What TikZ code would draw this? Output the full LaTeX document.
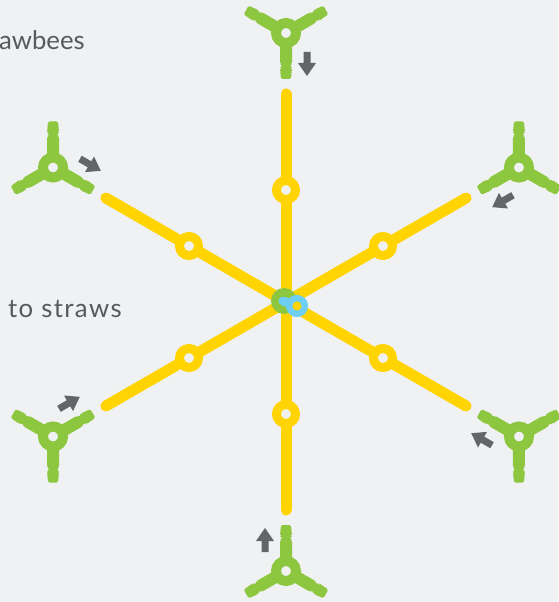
\documentclass[tikz,border=0pt]{standalone}
\usepackage{fontspec}
\setmainfont{Lato}
\newfontfamily\spaced{Lato}[LetterSpace=5.4]
\usepackage{tikz}

\definecolor{paper}{HTML}{F0F1F3}
\definecolor{straw}{HTML}{FFD400}
\definecolor{bee}{HTML}{8DC63F}
\definecolor{sky}{HTML}{6DCFF6}
\definecolor{pointer}{HTML}{646567}
\definecolor{ink}{HTML}{58595B}

\begin{document}
\begin{tikzpicture}
    [
      x=1pt, y=1pt,
      Spoke/.style={draw=straw, line width=11pt, line cap=round},
      Joint/.style={circle, draw=straw, fill=paper, line width=9pt, minimum size=19pt, inner sep=0pt},
      Tee/.style={circle, draw=bee, fill=paper, line width=10pt, minimum size=20pt, inner sep=0pt},
      Arm/.style={fill=bee, rounded corners=1.5pt},
      Pointer/.style={fill=pointer},
      Label/.style={text=ink, font=\fontsize{25.7}{30}\selectfont, inner sep=0pt},
    ]

    % Canvas
    \fill[paper] (-286,-300) rectangle (272,302);
    \useasboundingbox (-286,-300) rectangle (272,302);

    % Labels
    \node[Label, anchor=base west] (top) at (-287,252) {awbees};
    \node[Label, anchor=base west] (side) at (-278,-16) {\spaced to straws};

    % Spokes
    \coordinate (mid) at (0,0);
    \foreach \a in {30,90,...,330} {
      \begin{scope}[rotate=\a]
        \coordinate (end\a) at (208,0);
        \path[Spoke] (mid) -- (end\a);
      \end{scope}
    }

    % Joints on the spokes
    \foreach \a in {30,90,...,330} {
      \begin{scope}[rotate=\a]
        \node[Joint] (joint\a) at (112,0) {};
      \end{scope}
    }

    % Connectors and pointers
    \foreach \a in {30,90,...,330} {
      \begin{scope}[rotate=\a, shift={(269,0)}]
        \foreach \b in {180,60,-60} {
          \begin{scope}[rotate=\b]
            \path[Arm] (0,-6) -- (31,-6) -- (31,-4.5) -- (35,-4.5) -- (35,-6)
              -- (46,-5) -- (46,5) -- (35,6) -- (35,4.5) -- (31,4.5)
              -- (31,6) -- (0,6) -- cycle;
          \end{scope}
        }
        \node[Tee] (tee\a) at (0,0) {};
        \path[Pointer] (-19,-24.5) -- (-30,-24.5) -- (-30,-30) -- (-43,-21)
          -- (-30,-12) -- (-30,-17.5) -- (-19,-17.5) -- cycle;
      \end{scope}
    }

    % Centre
    \node[circle, fill=bee, minimum size=26pt, inner sep=0pt] (hub) at (-2,1) {};
    \coordinate (tab) at (-3,1);
    \coordinate (eye) at (11,-4);
    \draw[sky, line width=9pt, line cap=round] (tab) -- (eye);
    \node[circle, draw=sky, fill=bee, line width=6.5pt, minimum size=15.5pt, inner sep=0pt] (ring) at (eye) {};
    \fill[straw] (eye) circle (4.5pt);

  \end{tikzpicture}
\end{document}
